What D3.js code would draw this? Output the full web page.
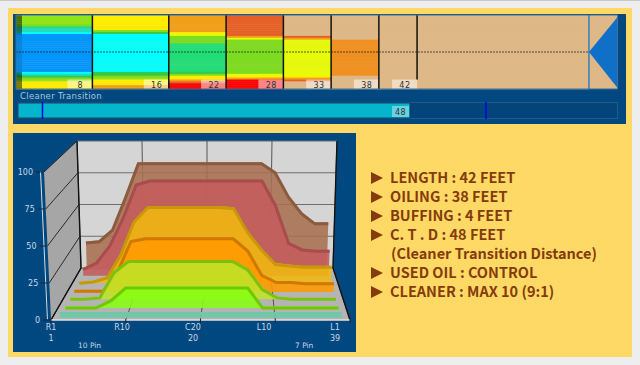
<!DOCTYPE html>
<html>
<head>
<meta charset="utf-8">
<script src="https://cdn.jsdelivr.net/npm/d3@7"></script>
<style>
  html, body { margin: 0; padding: 0; background: #eeeeee; overflow: hidden; }
  svg { display: block; }
  text { font-family: "DejaVu Sans", sans-serif; }
</style>
</head>
<body>
<div id="container"></div>
<script>
/* DATA */
// lane map : one letter per board, 39 boards, for each distance segment
const segEnds = [8, 16, 22, 28, 33, 38, 42, 60];
const segBoards = [
  "gggggmsddcbbbbbbbbbbbbbbbbbbbbcdemgyyyy",
  "yyyyyyyymecccccccccccccccccccceemgyyyaao".slice(0, 39),
  "aaaaaaaaaylmmmmsssssssssssssssemyyaorrr",
  "oooooooooooalmmmmmmmmmmmmmmmmmmlyarrrrr",
  "tttttttttttoalllllllllllllllllllyaotttt",
  "tttttttttttttAAAAAAAAAAAAAAAAAAAttttttt",
  "ttttttttttttttttttttttttttttttttttttttt",
  "ttttttttttttttttttttttttttttttttttttttt"
];
const segLabels = [8, 16, 22, 28, 33, 38, 42];
const oilKeys = ["t", "o", "r", "a", "A", "y", "l", "g", "m", "e", "s", "d", "c", "b"];
const oilColors = ["#deb887", "#e56028", "#ff0000", "#f0a018", "#f09020", "#ffee00", "#e6fb08", "#8fe516", "#7cdc20", "#38c848", "#1fde78", "#1adfc0", "#00ffff", "#0096ff"];
const cleanerFeet = 48;
const cleanerMarks = [3, 57.3];

// 3d profile : oil units by board, one series for each depth row
const boards = [2, 4, 6, 8, 10, 12, 14, 20, 22, 24, 26, 28, 30, 32, 34, 36, 38];
const depths = [0.97, 0.85, 0.71, 0.54, 0.40, 0.23, 0.04];
const brown = [22, 23, 32, 57, 84, 84, 84, 84, 84, 84, 84, 84, 77, 58, 45, 37, 37];
const red = [6, 11, 24, 45, 71, 74, 74, 74, 74, 74, 74, 74, 55, 26, 21, 20, 20];
const yellow = [1, 2, 5, 22, 47, 58, 58, 58, 58, 57, 39, 26, 15, 14, 13, 13, 13];
const orange = [1.5, 1.5, 1.5, 15, 38, 40, 40, 40, 40, 40, 31, 13, 8, 8, 7, 7, 7];
const lime = [1, 1, 2, 20, 28, 28, 28, 28, 28, 28, 22, 8, 2, 1, 1, 1, 1];
const green = [1, 1, 1, 6, 15, 15, 15, 15, 15, 15, 15, 1, 1, 1, 1, 1, 1];
const teal = [4, 4, 4, 4, 4, 4, 4, 4, 4, 4, 4, 4, 4, 4, 4, 4, 4];
const seriesValues = [brown, red, yellow, orange, lime, green, teal];
const seriesFill = ["#a86f50", "#c45c5c", "#f0b810", "#ff9a00", "#c0e428", "#88ff10", "#70c8a8"];
const seriesTop = ["#8c5a3c", "#a84c4c", "#c89808", "#d07800", "#7cc010", "#70c800", "#70c8a8"];
const valueTicks = [0, 25, 50, 75, 100];
const boardTicks = [1, 10.5, 20, 29.5, 39];
const boardTickLabels = ["R1", "R10", "C20", "L10", "L1"];
const boardNumbers = [1, 20, 39];

const notes = [
  "LENGTH : 42 FEET",
  "OILING  : 38 FEET",
  "BUFFING : 4 FEET",
  "C. T . D : 48 FEET",
  "(Cleaner Transition Distance)",
  "USED OIL : CONTROL",
  "CLEANER : MAX 10 (9:1)"
];

/* SVG */
const width = 640, height = 365;
const svg = d3.select("#container").append("svg")
  .attr("width", width).attr("height", height);

svg.append("rect").attr("width", width).attr("height", height).attr("fill", "#eeeeee");
svg.append("rect").attr("width", width).attr("height", 1).attr("fill", "#c8c8c8");
svg.append("rect").attr("x", 8).attr("y", 8).attr("width", 624).attr("height", 349).attr("fill", "#ffd966");
svg.append("rect").attr("x", 13).attr("y", 14).attr("width", 613).attr("height", 110).attr("fill", "#00487f");
svg.append("rect").attr("x", 13).attr("y", 133).attr("width", 343).attr("height", 219).attr("fill", "#00487f");

/* LANE MAP */
const xFeet = d3.scaleLinear().domain([0, 63]).range([16, 617.6]);
const yBoard = d3.scaleLinear().domain([0, 39]).range([15, 89]);
const oilColor = d3.scaleOrdinal().domain(oilKeys).range(oilColors);

const laneG = svg.append("g");
laneG.append("rect")
  .attr("x", xFeet(0)).attr("y", yBoard(0))
  .attr("width", xFeet(63) - xFeet(0)).attr("height", yBoard(39) - yBoard(0))
  .attr("fill", oilColor("t"));

segBoards.forEach((rows, i) => {
  const x0 = xFeet(i ? segEnds[i - 1] : 0), x1 = xFeet(segEnds[i]);
  laneG.append("g").selectAll("rect")
    .data(rows.split(""))
    .join("rect")
    .attr("x", x0)
    .attr("y", (d, r) => yBoard(r))
    .attr("width", x1 - x0)
    .attr("height", yBoard(1) - yBoard(0) + 0.3)
    .attr("fill", d => oilColor(d));
});

// dark edge on the first feet
laneG.selectAll(".edge")
  .data(d3.range(39))
  .join("rect")
  .attr("class", "edge")
  .attr("x", xFeet(0)).attr("y", d => yBoard(d))
  .attr("width", 6).attr("height", yBoard(1) - yBoard(0) + 0.3)
  .attr("fill", "#000")
  .attr("opacity", d => (d >= 10 && d < 30) ? 0.1 : 0.45);

// dividers + feet labels
segLabels.forEach((ft, i) => {
  const x = xFeet(ft);
  laneG.append("rect")
    .attr("x", x - 25).attr("y", yBoard(34))
    .attr("width", 25).attr("height", yBoard(39) - yBoard(34))
    .attr("fill", "#fff").attr("opacity", 0.5);
  laneG.append("line")
    .attr("x1", x).attr("x2", x)
    .attr("y1", yBoard(0)).attr("y2", ft == 42 ? yBoard(34) : yBoard(39))
    .attr("stroke", "#111").attr("stroke-width", 1.5);
  laneG.append("text")
    .attr("x", x - 12).attr("y", yBoard(39) - 1.5)
    .attr("text-anchor", "middle")
    .attr("font-size", 8).attr("letter-spacing", 0.6)
    .attr("fill", "#333").text(ft);
});

laneG.append("line")
  .attr("x1", xFeet(0)).attr("x2", xFeet(63))
  .attr("y1", yBoard(19.5)).attr("y2", yBoard(19.5))
  .attr("stroke", "#222").attr("stroke-dasharray", "2,1").attr("opacity", 0.75);

// foul line and arrow
laneG.append("line")
  .attr("x1", xFeet(60)).attr("x2", xFeet(60))
  .attr("y1", yBoard(0)).attr("y2", yBoard(39))
  .attr("stroke", "#1070c8").attr("stroke-width", 1.2);
laneG.append("path")
  .attr("d", d3.line()([[xFeet(63), yBoard(1)], [xFeet(60), yBoard(19.5)], [xFeet(63), yBoard(38.5)]]) + "Z")
  .attr("fill", "#1070c8");
laneG.append("rect")
  .attr("x", xFeet(0)).attr("y", yBoard(0))
  .attr("width", xFeet(63) - xFeet(0)).attr("height", yBoard(39) - yBoard(0))
  .attr("fill", "none").attr("stroke", "#3b6f9e").attr("stroke-width", 1);

/* CLEANER BAR */
const xCleaner = d3.scaleLinear().domain([0, 48]).range([18, 410]);
const cleanG = svg.append("g");
cleanG.append("text").attr("x", 20).attr("y", 99)
  .attr("font-size", 8.5).attr("letter-spacing", 0.3).attr("fill", "#a9c6dd").text("Cleaner Transition");
cleanG.append("rect")
  .attr("x", 17.5).attr("y", 102.5).attr("width", 600).attr("height", 16)
  .attr("fill", "#03457a").attr("stroke", "#265a85");
cleanG.append("rect")
  .attr("x", xCleaner(0)).attr("y", 103)
  .attr("width", xCleaner(cleanerFeet) - xCleaner(0)).attr("height", 15)
  .attr("fill", "#05b5cc").attr("stroke", "#0b3550").attr("stroke-width", 0.8);
cleanG.selectAll(".mark")
  .data(cleanerMarks)
  .join("line")
  .attr("class", "mark")
  .attr("x1", d => xCleaner(d)).attr("x2", d => xCleaner(d))
  .attr("y1", 102).attr("y2", 119)
  .attr("stroke", "#0000ee").attr("stroke-width", 1.5);
cleanG.append("rect")
  .attr("x", xCleaner(cleanerFeet) - 18).attr("y", 106).attr("width", 17).attr("height", 11)
  .attr("fill", "#fff").attr("opacity", 0.4);
cleanG.append("text")
  .attr("x", xCleaner(cleanerFeet) - 9.5).attr("y", 114.5)
  .attr("text-anchor", "middle").attr("font-size", 8).attr("letter-spacing", 0.5)
  .attr("fill", "#333").text(cleanerFeet);

/* 3D CHART */
const xFront = d3.scaleLinear().domain([1, 39]).range([51, 350]);
const xBack = d3.scaleLinear().domain([1, 39]).range([81, 333]);
const yFront = d3.scaleLinear().domain([0, 100]).range([320, 172]);
const yBack = d3.scaleLinear().domain([0, 100]).range([268, 141]);
const skew = d3.scaleLinear().domain([1, 39]).range([-1, 1]);

function project(board, value, depth) {
  const lean = (7 - 3 * depth) * (value / 100) * skew(board);
  return [
    xFront(board) + (xBack(board) - xFront(board)) * depth + lean,
    yFront(value) + (yBack(value) - yFront(value)) * depth
  ];
}
const poly = pts => d3.line()(pts) + "Z";

const chart = svg.append("g");
// back wall, left wall, floor
chart.append("path").attr("fill", "#d5d5d5")
  .attr("d", poly([project(1, 0, 1), project(39, 0, 1), project(39, 100, 1), project(1, 100, 1)]));
chart.append("path").attr("fill", "#a6a6a6")
  .attr("d", poly([project(1, 0, 0), project(1, 0, 1), project(1, 100, 1), project(1, 100, 0)]));
chart.append("path").attr("fill", "#dcdcdc")
  .attr("d", poly([project(1, 0, 0), project(1, 0, 0.03), project(1, 100, 0.03), project(1, 100, 0)].map(p => [p[0] - 4, p[1]])));
chart.append("path").attr("fill", "#b4b4b4")
  .attr("d", poly([project(1, 0, 0), project(39, 0, 0), project(39, 0, 1), project(1, 0, 1)]));

// grid
valueTicks.forEach(v => {
  chart.append("path").attr("fill", "none").attr("stroke", "#6e6e6e")
    .attr("d", d3.line()([project(1, v, 1), project(39, v, 1)]));
  chart.append("path").attr("fill", "none").attr("stroke", "#2a2a2a")
    .attr("d", d3.line()([project(1, v, 0), project(1, v, 1)]));
  const p = project(1, v, 0);
  chart.append("line").attr("x1", p[0] - 8).attr("x2", p[0] - 1).attr("y1", p[1]).attr("y2", p[1]).attr("stroke", "#0b2b48");
  chart.append("text").attr("x", p[0] - 11).attr("y", p[1] + 3)
    .attr("text-anchor", "end").attr("font-size", 8).attr("fill", "#c8d8e8").text(v);
});
boardTicks.forEach(b => {
  chart.append("path").attr("fill", "none").attr("stroke", "#555")
    .attr("d", d3.line()([project(b, 0, 1), project(b, 100, 1)]));
  chart.append("path").attr("fill", "none").attr("stroke", "#555")
    .attr("d", d3.line()([project(b, 0, 0), project(b, 0, 1)]));
});
chart.append("path").attr("fill", "none").attr("stroke", "#111").attr("stroke-width", 1.4)
  .attr("d", d3.line()([project(1, 0, 0), project(1, 0, 1), project(1, 100, 1)]));
chart.append("path").attr("fill", "none").attr("stroke", "#111").attr("stroke-width", 1.4)
  .attr("d", d3.line()([project(39, 0, 0), project(39, 0, 1), project(39, 100, 1)]));

// ribbons, back to front
seriesValues.forEach((values, i) => {
  const z = depths[i];
  const rows = boards.map((b, k) => ({ top: project(b, values[k], z), base: project(b, 0, z) }));
  chart.append("path")
    .attr("d", d3.area().x0(d => d.base[0]).y0(d => d.base[1]).x1(d => d.top[0]).y1(d => d.top[1])(rows))
    .attr("fill", seriesFill[i]).attr("fill-opacity", 0.88);
  chart.append("path")
    .attr("d", d3.line().x(d => d.top[0]).y(d => d.top[1] + 1.5)(rows))
    .attr("fill", "none").attr("stroke", seriesTop[i]).attr("stroke-width", 3);
});

// front edge and ticks
chart.append("path").attr("fill", "none").attr("stroke", "#e2e2e2").attr("stroke-width", 1.5)
  .attr("d", d3.line()([project(1, 0, 0), project(39, 0, 0)]));
boardTicks.forEach(b => {
  const p = project(b, 0, 0);
  chart.append("line").attr("x1", p[0]).attr("x2", p[0]).attr("y1", p[1] - 1).attr("y2", p[1] + 3).attr("stroke", "#222");
});

const xLabel = d3.scaleLinear().domain([1, 39]).range([51, 335]);
chart.selectAll(".tickLabel")
  .data(boardTicks)
  .join("text")
  .attr("class", "tickLabel")
  .attr("x", d => xLabel(d)).attr("y", 330)
  .attr("text-anchor", "middle").attr("font-size", 8).attr("fill", "#c8d8e8")
  .text((d, i) => boardTickLabels[i]);
chart.selectAll(".boardNo")
  .data(boardNumbers)
  .join("text")
  .attr("class", "boardNo")
  .attr("x", d => xLabel(d)).attr("y", 341)
  .attr("text-anchor", "middle").attr("font-size", 8).attr("fill", "#c8d8e8")
  .text(d => d);
chart.append("text").attr("x", 78).attr("y", 348).attr("font-size", 7.5).attr("fill", "#c8d8e8").text("10 Pin");
chart.append("text").attr("x", 295).attr("y", 348).attr("font-size", 7.5).attr("fill", "#c8d8e8").text("7 Pin");

/* NOTES */
const yNote = d3.scaleLinear().domain([0, 6]).range([178, 292]);
const noteG = svg.append("g");
noteG.selectAll("text")
  .data(notes)
  .join("text")
  .attr("x", (d, i) => i == 4 ? 391 : 390)
  .attr("y", (d, i) => yNote(i) + 5)
  .attr("font-size", 14.5)
  .attr("font-weight", 700)
  .style("font-family", "'Noto Sans CJK KR', 'Noto Sans', sans-serif")
  .attr("fill", "#843c0c")
  .text(d => d);
noteG.selectAll("path")
  .data(notes.map((d, i) => i).filter(i => i != 4))
  .join("path")
  .attr("d", i => poly([[371, yNote(i) - 6], [383, yNote(i)], [371, yNote(i) + 6]]))
  .attr("fill", "#843c0c");
</script>
</body>
</html>
